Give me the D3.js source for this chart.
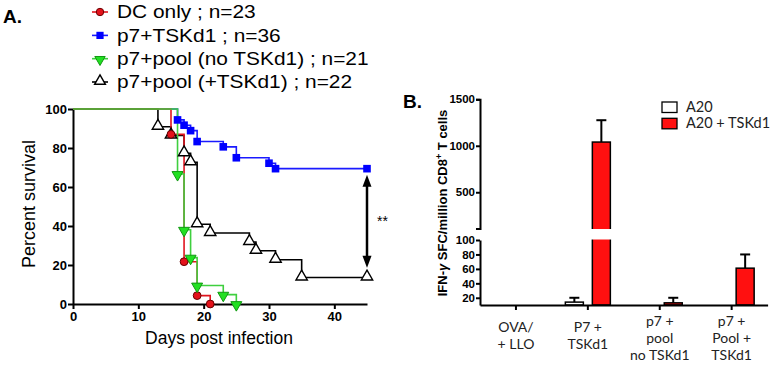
<!DOCTYPE html>
<html><head><meta charset="utf-8">
<script src="https://cdn.jsdelivr.net/npm/d3@7"></script>
<style>body{margin:0;background:#fff} svg{display:block}</style>
</head><body>
<svg id="c" width="770" height="365"></svg>
<script>
// ---------- Panel A data ----------
const seriesNames = ["DC only ; n=23","p7+TSKd1 ; n=36","p7+pool (no TSKd1) ; n=21","p7+pool (+TSKd1) ; n=22"];
const dcOnly     = [[0,100],[15,87.0],[17,21.7],[19,4.3],[21,0]];
const p7TSKd1    = [[0,100],[16,94.4],[17,91.7],[18,88.9],[19,83.3],[23,80.6],[25,75.0],[30,72.2],[31,69.4],[45,69.4]];
const p7PoolNo   = [[0,100],[16,66.7],[17,38.1],[18,23.8],[19,9.5],[23,4.8],[25,0]];
const p7PoolPlus = [[0,100],[13,90.9],[15,86.4],[17,77.3],[18,72.7],[19,40.9],[21,36.4],[27,31.8],[28,27.3],[31,22.7],[35,13.6],[45,13.6]];
const dayTicks  = [0,10,20,30,40];
const survTicks = [0,20,40,60,80,100];
const arrowSpan = [66.3, 18.6];   // significance arrow at day 45 (percent)

// ---------- Panel B data ----------
const barCategories = [["OVA/","+ LLO"],["P7 +","TSKd1"],["p7 +","pool","no TSKd1"],["p7 +","Pool +","TSKd1"]];
const barSeries = ["A20","A20 + TSKd1"];
const a20Values = [0, 14, 0, 0];
const a20ErrTop = [0, 20, 0, 0];
const tskValues = [0, 1040, 13, 61];
const tskErrTop = [0, 1275, 20, 80];
const upperTicks = [500,1000,1500];
const lowerTicks = [20,40,60,80,100];

const svg = d3.select("#c");
const AR = "'Liberation Sans', Arial, sans-serif";
const CAL = "Lato, 'Open Sans', sans-serif";

// ================= PANEL A =================
svg.append("text").attr("x",3).attr("y",23).attr("font-family",AR).attr("font-weight","bold")
  .attr("font-size",19).text("A.");

const x = d3.scaleLinear([0,45],[73,367]);
const y = d3.scaleLinear([0,100],[304,109]);

const styles = [
  {data: dcOnly,     line:"#e0141e", shape:"circle"},
  {data: p7TSKd1,    line:"#1a1aff", shape:"square"},
  {data: p7PoolNo,   line:"#3fcf3f", shape:"tdown"},
  {data: p7PoolPlus, line:"#000000", shape:"tup"}
];

function marker(g, shape, cx, cy, big){
  const s = big||1;
  if(shape==="circle") g.append("circle").attr("cx",cx).attr("cy",cy).attr("r",3.9*s)
      .attr("fill","#e3121b").attr("stroke","#6a0000").attr("stroke-width",1);
  else if(shape==="square") g.append("rect").attr("x",cx-3.8*s).attr("y",cy-3.8*s)
      .attr("width",7.6*s).attr("height",7.6*s).attr("fill","#0000ff");
  else if(shape==="tdown") g.append("path").attr("d",d3.symbol(d3.symbolTriangle, 52*s*s)())
      .attr("transform",`translate(${cx},${cy+0.8}) rotate(180)`)
      .attr("fill","#22e022").attr("stroke","#119911").attr("stroke-width",1);
  else g.append("path").attr("d",d3.symbol(d3.symbolTriangle, 56*s*s)())
      .attr("transform",`translate(${cx},${cy-0.8})`)
      .attr("fill","#fff").attr("stroke","#000").attr("stroke-width",1.4);
}

// axes
const gy = svg.append("g").attr("transform","translate(73,0)")
  .call(d3.axisLeft(y).tickValues(survTicks).tickSize(5).tickSizeOuter(0).tickPadding(1));
const gx = svg.append("g").attr("transform","translate(0,304)")
  .call(d3.axisBottom(x).tickValues(dayTicks).tickSize(5).tickSizeOuter(0).tickPadding(3));
[gy,gx].forEach(g=>{
  g.selectAll("path,line").attr("stroke","#000").attr("stroke-width",2);
  g.selectAll("text").attr("font-family",AR).attr("font-weight","bold").attr("font-size",13).attr("fill","#000");
});

// lines
const stepLine = d3.line().x(d=>x(d[0])).y(d=>y(d[1])).curve(d3.curveStepAfter);
const drawOrder = [1,3,0,2];
drawOrder.forEach(i=>{
  svg.append("path").attr("d",stepLine(styles[i].data)).attr("fill","none")
    .attr("stroke",styles[i].line).attr("stroke-width",1.6);
});
// markers
const mg = svg.append("g");
drawOrder.forEach(i=>{
  styles[i].data.slice(1).forEach(d=>marker(mg, styles[i].shape, x(d[0]), y(d[1])));
});

// significance arrow
const ax = x(45), aTop = y(arrowSpan[0]), aBot = y(arrowSpan[1]);
svg.append("line").attr("x1",ax).attr("x2",ax).attr("y1",aTop+8).attr("y2",aBot-8)
  .attr("stroke","#000").attr("stroke-width",2.5);
svg.append("path").attr("d",`M${ax},${aTop} L${ax-4.5},${aTop+12} L${ax+4.5},${aTop+12} Z`).attr("fill","#000");
svg.append("path").attr("d",`M${ax},${aBot} L${ax-4.5},${aBot-12} L${ax+4.5},${aBot-12} Z`).attr("fill","#000");
svg.append("text").attr("x",ax+10).attr("y",(aTop+aBot)/2+5).attr("font-family",AR)
  .attr("font-size",14).text("**");

// axis titles
svg.append("text").attr("transform","translate(35,204) rotate(-90)").attr("text-anchor","middle")
  .attr("font-family",AR).attr("font-size",18).text("Percent survival");
svg.append("text").attr("x",219).attr("y",344).attr("text-anchor","middle")
  .attr("font-family",AR).attr("font-size",17.5).text("Days post infection");

// legend A
const legBase = [18.3, 41.7, 65, 88.3];
seriesNames.forEach((n,i)=>{
  const cy = legBase[i]-6.3;
  svg.append("line").attr("x1",92).attr("x2",108).attr("y1",cy).attr("y2",cy)
    .attr("stroke",styles[i].line).attr("stroke-width",1.6);
  marker(svg, styles[i].shape, 100, cy, 0.95);
  svg.append("text").attr("transform",`translate(117,${legBase[i]}) scale(1.13,1)`)
    .attr("font-family",AR).attr("font-size",18.5).text(n);
});

// ================= PANEL B =================
svg.append("text").attr("x",403).attr("y",108).attr("font-family",AR).attr("font-weight","bold")
  .attr("font-size",19).text("B.");

const xB = d3.scaleBand(d3.range(barCategories.length),[480,767.6]);
const xSub = d3.scaleBand(barSeries,[-22.5,22.5]).paddingInner(1/3);
const yLow = d3.scaleLinear([10,100],[305,240]);
const yUp  = d3.scaleLinear([110,1500],[228.5,99.3]);
const yv = v => v<=100 ? yLow(v) : yUp(v);

// bars
const series = [
  {name:barSeries[0], vals:a20Values, err:a20ErrTop, fill:"#ffffff"},
  {name:barSeries[1], vals:tskValues, err:tskErrTop, fill:"#ff1010"}
];
series.forEach(s=>{
  s.vals.forEach((v,i)=>{
    if(v<=10) return;
    const cx = xB(i)+xB.bandwidth()/2;
    const bx = cx + xSub(s.name), bw = xSub.bandwidth();
    const top = yv(v);
    const et = yv(s.err[i]);
    svg.append("line").attr("x1",bx+bw/2).attr("x2",bx+bw/2).attr("y1",top).attr("y2",et)
      .attr("stroke","#000").attr("stroke-width",2);
    svg.append("line").attr("x1",bx+bw/2-5).attr("x2",bx+bw/2+5).attr("y1",et).attr("y2",et)
      .attr("stroke","#000").attr("stroke-width",2);
    svg.append("rect").attr("x",bx).attr("y",top).attr("width",bw).attr("height",yLow(10)-top)
      .attr("fill",s.fill).attr("stroke","#000").attr("stroke-width",1.5);
    if(v>100){
      svg.append("rect").attr("x",bx-2).attr("y",yUp(110)+0.5).attr("width",bw+4)
        .attr("height",yLow(100)-yUp(110)-1).attr("fill","#fff");
    }
  });
});

// axes B
const gUp = svg.append("g").attr("transform","translate(480,0)")
  .call(d3.axisLeft(yUp).tickValues(upperTicks).tickFormat(d3.format("d")).tickSize(4).tickSizeOuter(4).tickPadding(1));
const gLo = svg.append("g").attr("transform","translate(480,0)")
  .call(d3.axisLeft(yLow).tickValues(lowerTicks).tickFormat(d3.format("d")).tickSize(4).tickSizeOuter(0).tickPadding(1));
const gxB = svg.append("g").attr("transform","translate(0,305)")
  .call(d3.axisBottom(xB).tickSize(5).tickSizeOuter(0).tickFormat(""));
[gUp,gLo,gxB].forEach(g=>{
  g.selectAll("path,line").attr("stroke","#000").attr("stroke-width",2);
  g.selectAll("text").attr("font-family",AR).attr("font-weight","bold").attr("font-size",11.5).attr("fill","#000");
});

// category labels
barCategories.forEach((lines,i)=>{
  const cx = xB(i)+xB.bandwidth()/2;
  const start = lines.length===3 ? 325.5 : 331.5;
  lines.forEach((t,j)=>{
    svg.append("text").attr("x",cx).attr("y",start+j*17.3).attr("text-anchor","middle")
      .attr("font-family",CAL).attr("font-size",14).attr("fill","#222").text(t);
  });
});

// y title B
const yt = svg.append("text").attr("transform","translate(447,203) rotate(-90)").attr("text-anchor","middle")
  .attr("font-family",AR).attr("font-weight","bold").attr("font-size",13);
yt.append("tspan").text("IFN-");
yt.append("tspan").attr("font-style","italic").text("γ");
yt.append("tspan").text(" SFC/million CD8");
yt.append("tspan").attr("dy",-5).attr("font-size",9).text("+");
yt.append("tspan").attr("dy",5).text(" T cells");

// legend B
barSeries.forEach((n,i)=>{
  const ty = 102 + i*16.3;
  svg.append("rect").attr("x",662).attr("y",ty).attr("width",15).attr("height",10.5)
    .attr("fill",series[i].fill).attr("stroke","#000").attr("stroke-width",1.3);
  svg.append("text").attr("x",686).attr("y",ty+10).attr("font-family",CAL)
    .attr("font-size",14.5).attr("fill","#222").text(n);
});
</script>
</body></html>
